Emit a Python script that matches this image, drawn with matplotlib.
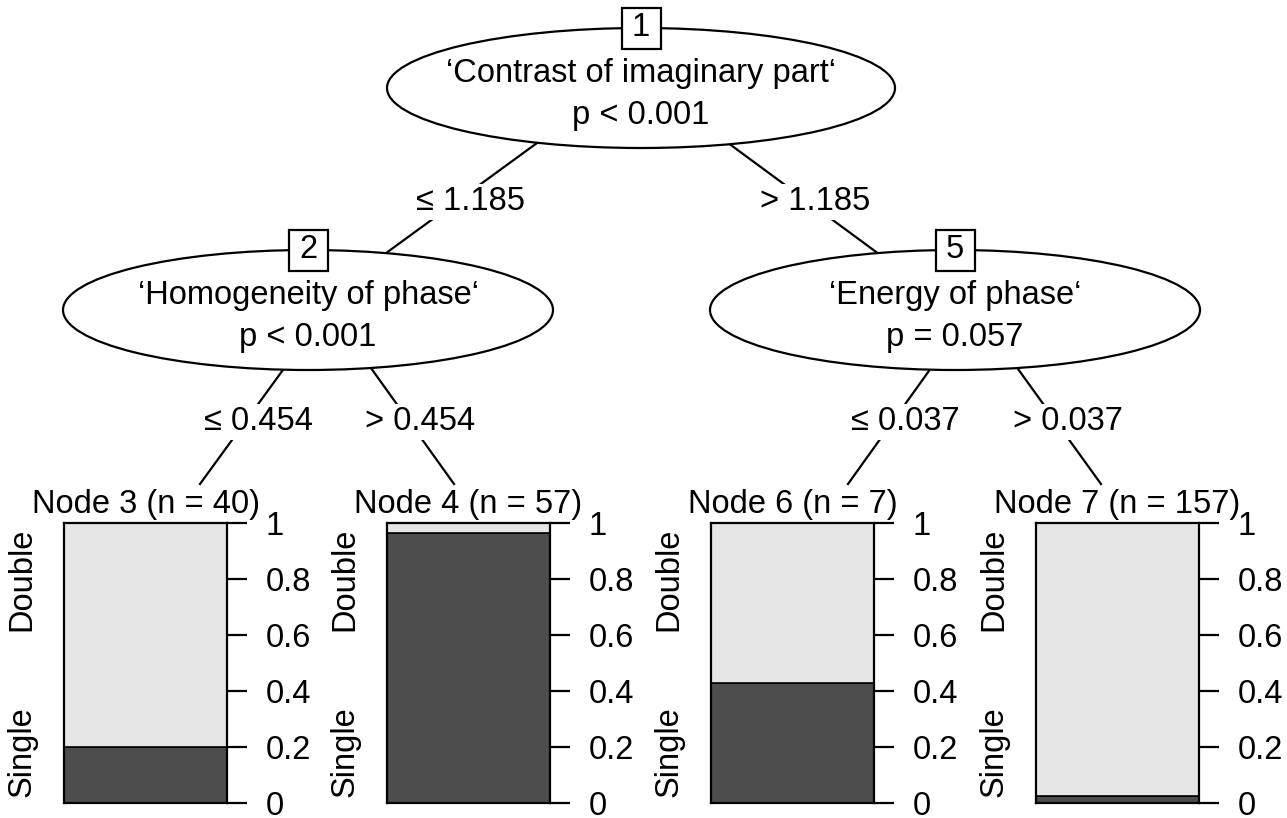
import matplotlib
matplotlib.use('Agg')
import matplotlib.pyplot as plt
from matplotlib.patches import Ellipse, Rectangle

plt.rcParams['font.family'] = ['Liberation Sans', 'DejaVu Sans']
FS = 23.5

# inner (split) nodes
inner_ids = [1, 2, 5]
inner_vars = ['\u2018Contrast of imaginary part\u2018',
              '\u2018Homogeneity of phase\u2018',
              '\u2018Energy of phase\u2018']
inner_p = ['p < 0.001', 'p < 0.001', 'p = 0.057']
split_left = ['\u2264 1.185', '\u2264 0.454', '\u2264 0.037']
split_right = ['> 1.185', '> 0.454', '> 0.037']

# terminal nodes
leaf_ids = [3, 4, 6, 7]
leaf_n = [40, 57, 7, 157]
leaf_single = [0.20, 0.965, 0.429, 0.025]   # share of "Single"
classes = ['Single', 'Double']
ticks = [0, 0.2, 0.4, 0.6, 0.8, 1]
tick_labels = ['0', '0.2', '0.4', '0.6', '0.8', '1']

# layout, in pixels of a 1287 x 818 canvas
W, H = 1287, 818
ell_xy = [(641, 88), (308, 310), (955, 310)]
ell_w = [508, 490, 490]
ell_h = 120
edge_from = [(633, 73), (328, 308), (974, 308)]
leaf_top = [(200, 484), (454, 484), (848, 484), (1101, 484)]
edge_to = [[ell_xy[1], ell_xy[2]], leaf_top[0:2], leaf_top[2:4]]
lab_y = [202, 422, 422]
lab_x = [(471, 815), (258, 420), (905, 1068)]
bar_left = [64, 387, 711, 1036]
bar_w, bar_top, bar_h = 163, 523, 280

dark = '#4d4d4d'
light = '#e6e6e6'

fig = plt.figure(figsize=(W / 100, H / 100), dpi=100)
ax = fig.add_axes([0, 0, 1, 1])
ax.set_xlim(0, W)
ax.set_ylim(H, 0)
ax.axis('off')

for i in range(len(inner_ids)):
    # edges and their split labels
    x0, y0 = edge_from[i]
    for (x1, y1) in edge_to[i]:
        ax.plot([x0, x1], [y0, y1], color='black', lw=1.6, zorder=1)
    for txt, lx in zip([split_left[i], split_right[i]], lab_x[i]):
        ax.text(lx, lab_y[i], txt, ha='center', va='center', fontsize=FS, zorder=4,
                bbox=dict(boxstyle='square,pad=0.08', fc='white', ec='none'))

    # node ellipse
    cx, cy = ell_xy[i]
    ax.add_patch(Ellipse((cx, cy), ell_w[i], ell_h, fc='white', ec='black',
                         lw=1.6, zorder=2))
    ax.text(cx, cy - 6, inner_vars[i], ha='center', va='baseline', fontsize=FS, zorder=3)
    ax.text(cx, cy + 36, inner_p[i], ha='center', va='baseline', fontsize=FS, zorder=3)

    # node id box
    ax.add_patch(Rectangle((cx - 19.5, cy - ell_h / 2 - 20.5), 39, 41, fc='white',
                           ec='black', lw=1.6, zorder=3))
    ax.text(cx, cy - ell_h / 2, str(inner_ids[i]), ha='center', va='center',
            fontsize=FS, zorder=4)

# terminal bar plots
for j in range(len(leaf_ids)):
    bx = fig.add_axes([bar_left[j] / W, 1 - (bar_top + bar_h) / H, bar_w / W, bar_h / H])
    s = leaf_single[j]
    bx.bar(0, s, width=1, color=dark, edgecolor='black', lw=1.2)
    bx.bar(0, 1 - s, bottom=s, width=1, color=light, edgecolor='black', lw=1.2)
    bx.set_xlim(-0.5, 0.5)
    bx.set_ylim(0, 1)
    bx.set_xticks([])
    bx.yaxis.tick_right()
    bx.set_yticks(ticks)
    bx.set_yticklabels(tick_labels)
    bx.tick_params(axis='y', length=14.5, width=1.6, pad=13.5, labelsize=FS)
    for sp in bx.spines.values():
        sp.set_linewidth(1.6)
    bx.annotate('Node %d (n = %d)' % (leaf_ids[j], leaf_n[j]), (0.5, 1),
                xycoords='axes fraction', xytext=(0, 7), textcoords='offset points',
                ha='center', va='baseline', fontsize=FS, annotation_clip=False)
    bx.annotate(classes[0], (0, 0), xycoords='axes fraction', xytext=(-19, 4),
                textcoords='offset points', ha='right', va='bottom', rotation=90,
                fontsize=FS, annotation_clip=False)
    bx.annotate(classes[1], (0, 1), xycoords='axes fraction', xytext=(-19, -3),
                textcoords='offset points', ha='right', va='top', rotation=90,
                fontsize=FS, annotation_clip=False)

fig.savefig('out.png', dpi=100)
